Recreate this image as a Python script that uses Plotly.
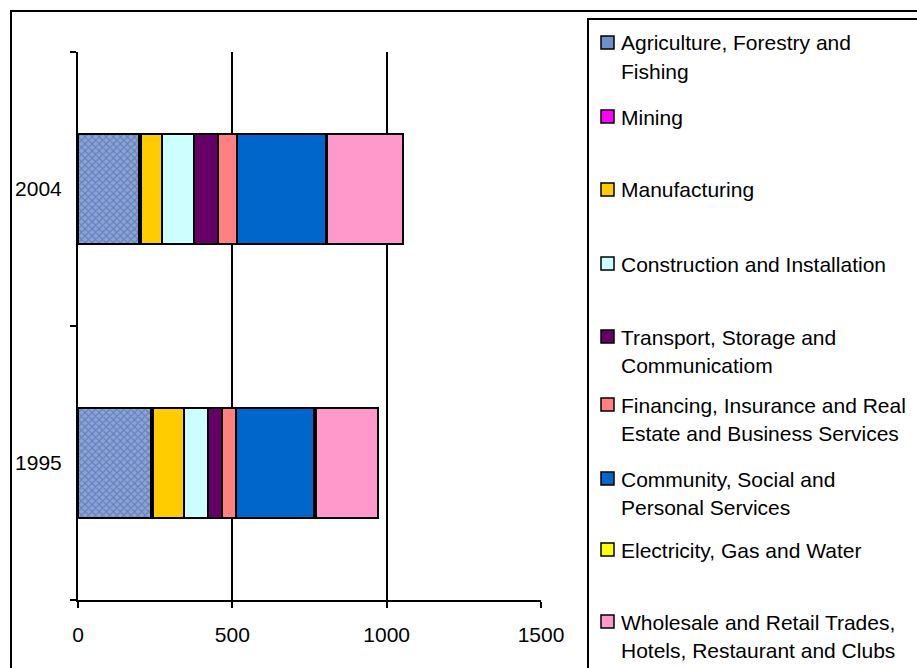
import plotly.graph_objects as go

# ---- data -------------------------------------------------------------
years = ["1995", "2004"]
sectors = [
    "Agriculture, Forestry and Fishing",
    "Mining",
    "Manufacturing",
    "Construction and Installation",
    "Transport, Storage and Communicatiom",
    "Financing, Insurance and Real Estate and Business Services",
    "Community, Social and Personal Services",
    "Electricity, Gas and Water",
    "Wholesale and Retail Trades, Hotels, Restaurant and Clubs",
]
values_1995 = [236, 6, 100, 79, 46, 45, 252, 8, 200]
values_2004 = [197, 6, 68, 104, 80, 60, 287, 6, 246]
legend_lines = [
    ["Agriculture, Forestry and", "Fishing"],
    ["Mining"],
    ["Manufacturing"],
    ["Construction and Installation"],
    ["Transport, Storage and", "Communicatiom"],
    ["Financing, Insurance and Real", "Estate and Business Services"],
    ["Community, Social and", "Personal Services"],
    ["Electricity, Gas and Water"],
    ["Wholesale and Retail Trades,", "Hotels, Restaurant and Clubs"],
]
x_ticks = [0, 500, 1000, 1500]

# ---- styling ----------------------------------------------------------
colors = ["#8ba4d8", "#ff00ff", "#ffcc00", "#ccffff", "#660066",
          "#ff8080", "#0066cc", "#ffff00", "#ff99cc"]
legend_swatch = ["#6f8fc8"] + colors[1:]
FONT = "Liberation Sans, Arial, sans-serif"
FS = 21

W, H = 917, 668
PL, PR, PT, PB = 78, 541, 52, 600   # plot area in pixels


def px_x(px):
    return (px - PL) / (PR - PL)


def px_y(py):
    return (PB - py) / (PB - PT)


fig = go.Figure()
for i, name in enumerate(sectors):
    marker = dict(color=colors[i], line=dict(color="black", width=2))
    if i == 0:
        # woven texture on the agriculture segment
        marker["pattern"] = dict(shape="x", fgcolor="#3d5a96", size=5,
                                 solidity=0.4)
    fig.add_trace(go.Bar(
        y=years, x=[values_1995[i], values_2004[i]], name=name,
        orientation="h", marker=marker, showlegend=False,
    ))

shapes = []
annotations = []

# outer chart frame and legend frame
shapes.append(dict(type="rect", xref="paper", yref="paper",
                   x0=px_x(11), x1=px_x(W + 10), y0=px_y(H + 10), y1=px_y(11),
                   line=dict(color="black", width=2), layer="below"))
shapes.append(dict(type="rect", xref="paper", yref="paper",
                   x0=px_x(588), x1=px_x(W + 10), y0=px_y(H + 10), y1=px_y(19),
                   line=dict(color="black", width=2), layer="below"))

# hand-placed legend: swatch + text lines
swatch_tops = [36, 110, 183, 257, 330, 398, 472, 543, 615]
for i, top in enumerate(swatch_tops):
    shapes.append(dict(type="rect", xref="paper", yref="paper",
                       x0=px_x(601), x1=px_x(614), y0=px_y(top + 13), y1=px_y(top),
                       fillcolor=legend_swatch[i],
                       line=dict(color="black", width=1.5)))
    for j, line in enumerate(legend_lines[i]):
        annotations.append(dict(
            xref="paper", yref="paper", x=px_x(619), y=px_y(top + 7 + 28 * j),
            xanchor="left", yanchor="middle", text=line, showarrow=False,
            font=dict(family=FONT, size=FS, color="black"),
        ))

fig.update_layout(
    width=W, height=H,
    margin=dict(l=PL, r=W - PR, t=PT, b=H - PB, pad=0),
    paper_bgcolor="white", plot_bgcolor="white",
    barmode="stack", bargap=0.6,
    font=dict(family=FONT, size=FS, color="black"),
    shapes=shapes, annotations=annotations,
    xaxis=dict(
        range=[0, 1500], tickvals=x_ticks, ticktext=[str(v) for v in x_ticks],
        showgrid=True, gridcolor="black", gridwidth=2, zeroline=False,
        showline=True, linecolor="black", linewidth=2,
        ticks="outside", ticklen=6, tickwidth=2, tickcolor="black",
        ticklabelstandoff=9,
    ),
    yaxis=dict(
        type="category", categoryorder="array", categoryarray=years,
        showgrid=False, zeroline=False,
        showline=True, linecolor="black", linewidth=2,
        ticks="outside", ticklen=6, tickwidth=2, tickcolor="black",
        tickson="boundaries", ticklabelstandoff=10,
    ),
)

fig.write_html("out.html")
